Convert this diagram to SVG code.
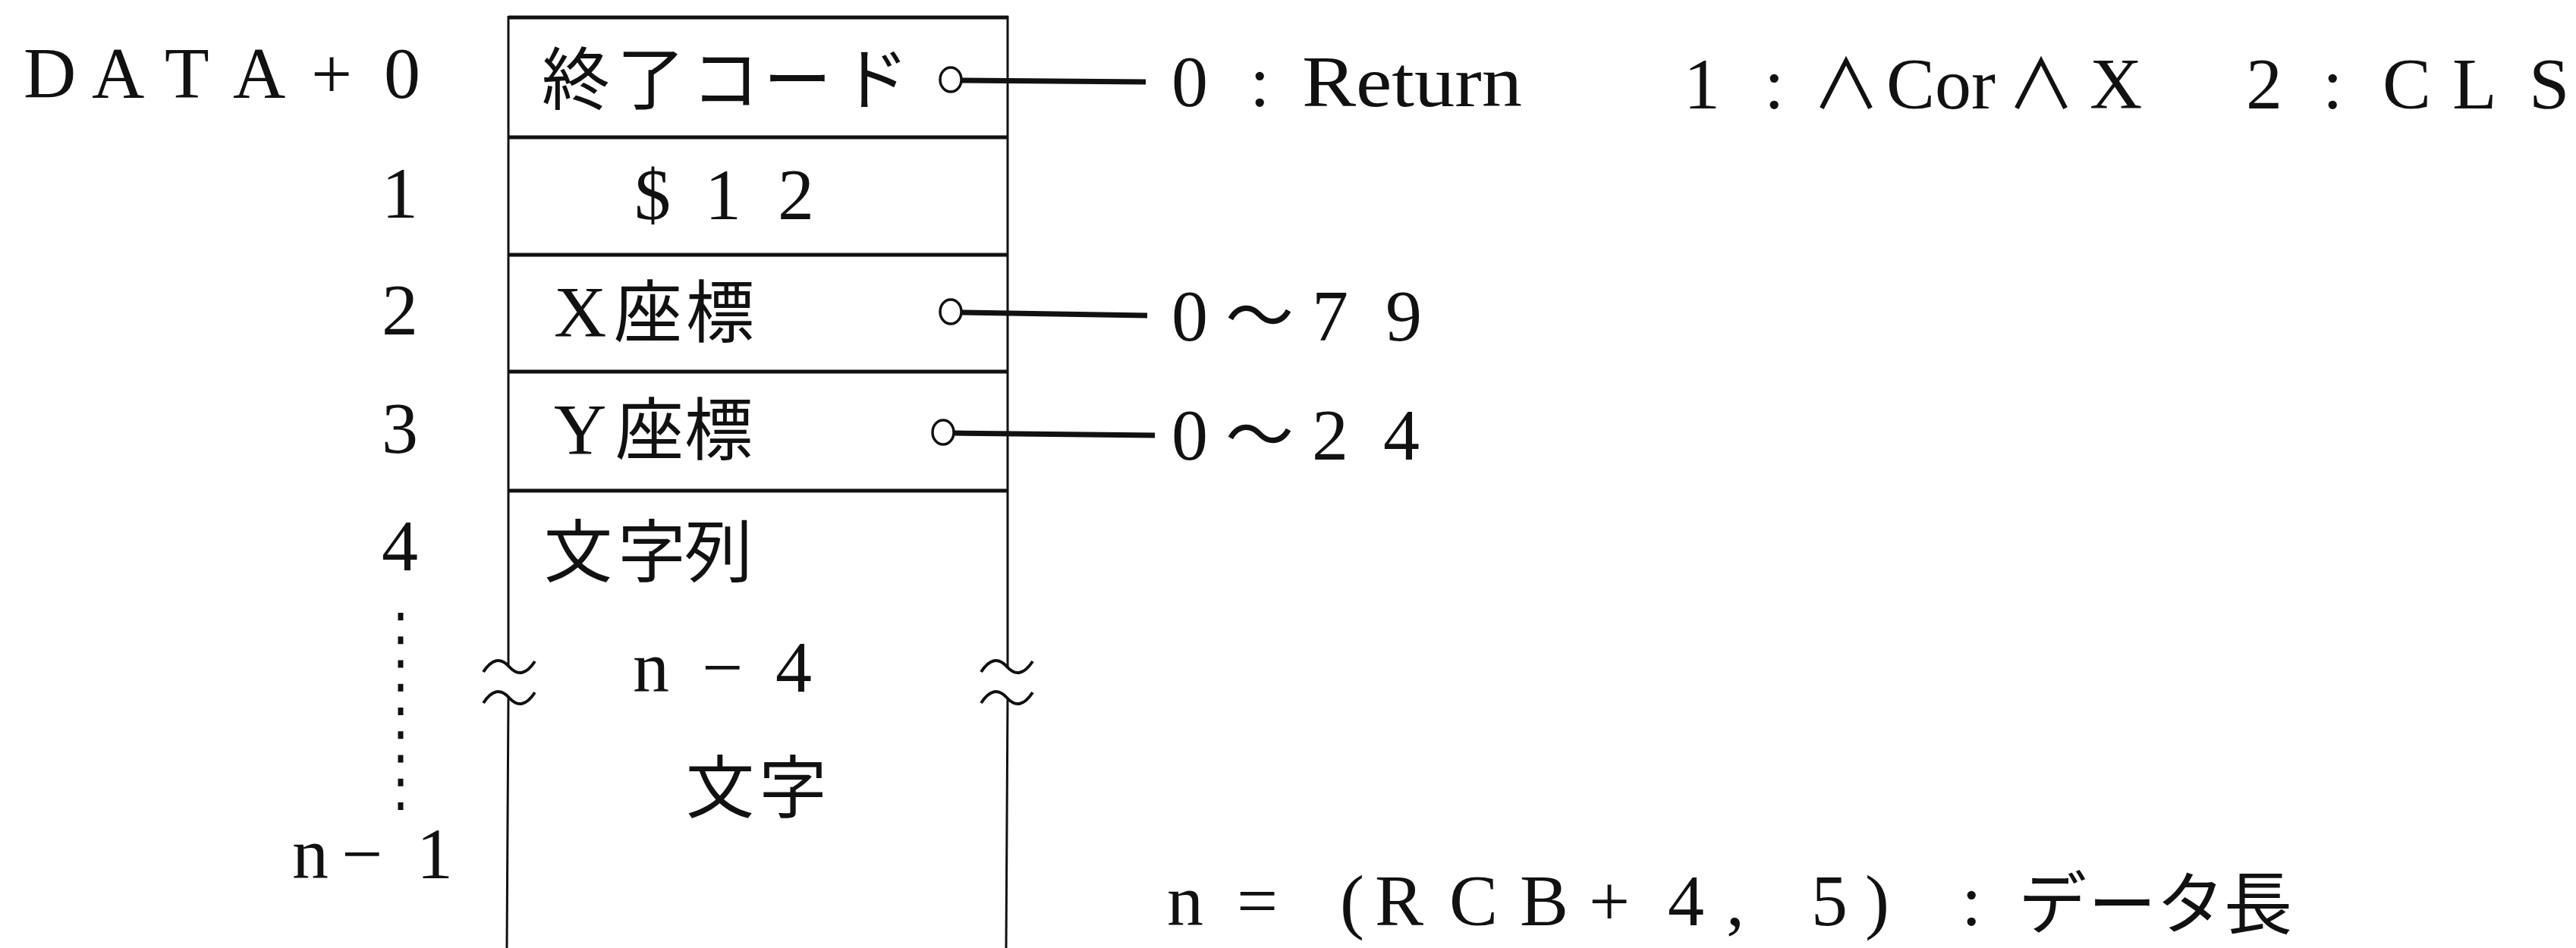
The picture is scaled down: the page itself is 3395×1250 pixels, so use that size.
<svg xmlns="http://www.w3.org/2000/svg" width="3395" height="1250" viewBox="0 0 3395 1250">
<style>
.lat{font-family:"Liberation Serif","Noto Sans CJK JP",serif;font-size:96px;fill:#111}
.jp{font-family:"Noto Sans CJK JP","Liberation Serif",sans-serif;font-size:90px;fill:#111}
.edge{stroke:#111;stroke-width:3;fill:none}
.wave{stroke:#111;stroke-width:4;fill:none}
.div{stroke:#111;stroke-width:5;fill:none}
.lead{stroke:#111;stroke-width:7;fill:none}
.pin{stroke:#111;stroke-width:3.5;fill:#fff}
</style>
<rect x="0" y="0" width="3395" height="1250" fill="#fff"/>

<g id="offsets">
<text class="lat" y="129"><tspan x="31">D</tspan><tspan x="121">A</tspan><tspan x="217">T</tspan><tspan x="307">A</tspan><tspan x="410">+</tspan><tspan x="506">0</tspan></text>
<text class="lat" x="551" y="287" text-anchor="end">1</text>
<text class="lat" x="551" y="441" text-anchor="end">2</text>
<text class="lat" x="551" y="597" text-anchor="end">3</text>
<text class="lat" x="551" y="752" text-anchor="end">4</text>
<line x1="528" y1="808" x2="528" y2="1068" stroke="#111" stroke-width="7" stroke-dasharray="10 21.25"/>
<text class="lat" y="1158"><tspan x="385">n</tspan><tspan x="450">−</tspan><tspan x="549">1</tspan></text>
</g>

<g id="box-frame">
<line class="div" x1="670" y1="23" x2="1329" y2="23"/>
<line class="edge" x1="670" y1="21" x2="670" y2="879"/>
<line class="edge" x1="670" y1="920" x2="668" y2="1250"/>
<line class="edge" x1="1328" y1="21" x2="1328" y2="879"/>
<line class="edge" x1="1328" y1="920" x2="1326" y2="1250"/>
<path class="wave" d="M637,886 Q654,860 671,879 T705,872"/>
<path class="wave" d="M637,927 Q654,901 671,920 T705,913"/>
<path class="wave" d="M1293,886 Q1310,860 1327,879 T1361,872"/>
<path class="wave" d="M1293,927 Q1310,901 1327,920 T1361,913"/>
</g>

<g id="row0">
<line class="div" x1="670" y1="181" x2="1329" y2="181"/>
<text class="jp" y="137"><tspan x="714">終</tspan><tspan x="813">了</tspan><tspan x="911">コ</tspan><tspan x="1006">ー</tspan><tspan x="1108">ド</tspan></text>
</g>
<g id="row1">
<line class="div" x1="670" y1="336" x2="1329" y2="336"/>
<text class="lat" y="289"><tspan x="836">$</tspan><tspan x="929">1</tspan><tspan x="1025">2</tspan></text>
</g>
<g id="row2">
<line class="div" x1="670" y1="490" x2="1329" y2="490"/>
<text y="444"><tspan class="lat" x="730">X</tspan><tspan class="jp" x="809">座</tspan><tspan class="jp" x="904">標</tspan></text>
</g>
<g id="row3">
<line class="div" x1="670" y1="647" x2="1329" y2="647"/>
<text y="599"><tspan class="lat" x="730">Y</tspan><tspan class="jp" x="811">座</tspan><tspan class="jp" x="902">標</tspan></text>
</g>
<g id="row4">
<text class="jp" y="760"><tspan x="717">文</tspan><tspan x="814">字</tspan><tspan x="902">列</tspan></text>
<text class="lat" y="912"><tspan x="834">n</tspan><tspan x="925">−</tspan><tspan x="1022">4</tspan></text>
<text class="jp" y="1071"><tspan x="904">文</tspan><tspan x="1000">字</tspan></text>
</g>

<g id="connectors">
<line class="lead" x1="1266" y1="106" x2="1510" y2="108"/>
<ellipse class="pin" cx="1253" cy="105" rx="14" ry="16"/>
<line class="lead" x1="1266" y1="412" x2="1512" y2="416"/>
<ellipse class="pin" cx="1253" cy="411" rx="14" ry="16"/>
<line class="lead" x1="1256" y1="571" x2="1522" y2="574"/>
<ellipse class="pin" cx="1243" cy="570" rx="14" ry="16"/>
</g>

<g id="values">
<text class="lat" y="140"><tspan x="1544">0</tspan><tspan x="1647">:</tspan><tspan x="1716" textLength="290" lengthAdjust="spacingAndGlyphs">Return</tspan></text>
<text y="143"><tspan class="lat" x="2219">1</tspan><tspan class="lat" x="2325">:</tspan><tspan class="jp" x="2388">∧</tspan><tspan class="lat" x="2486">Cor</tspan><tspan class="jp" x="2645">∧</tspan><tspan class="lat" x="2754">X</tspan><tspan class="lat" x="2960">2</tspan><tspan class="lat" x="3061">:</tspan><tspan class="lat" x="3140">C</tspan><tspan class="lat" x="3232">L</tspan><tspan class="lat" x="3333">S</tspan></text>
<text y="449"><tspan class="lat" x="1544">0</tspan><tspan class="jp" x="1615">～</tspan><tspan class="lat" x="1729">7</tspan><tspan class="lat" x="1826">9</tspan></text>
<text y="606"><tspan class="lat" x="1544">0</tspan><tspan class="jp" x="1615">～</tspan><tspan class="lat" x="1729">2</tspan><tspan class="lat" x="1823">4</tspan></text>
</g>

<g id="note">
<text y="1220"><tspan class="lat" x="1538">n</tspan><tspan class="lat" x="1630">=</tspan><tspan class="lat" x="1766">(</tspan><tspan class="lat" x="1812">R</tspan><tspan class="lat" x="1910">C</tspan><tspan class="lat" x="2003">B</tspan><tspan class="lat" x="2094">+</tspan><tspan class="lat" x="2198">4</tspan><tspan class="lat" x="2275">,</tspan><tspan class="lat" x="2387">5</tspan><tspan class="lat" x="2458">)</tspan><tspan class="lat" x="2585">:</tspan><tspan class="jp" x="2660" y="1224">デ</tspan><tspan class="jp" x="2752" y="1224">ー</tspan><tspan class="jp" x="2842" y="1224">タ</tspan><tspan class="jp" x="2931" y="1224">長</tspan></text>
</g>
</svg>
